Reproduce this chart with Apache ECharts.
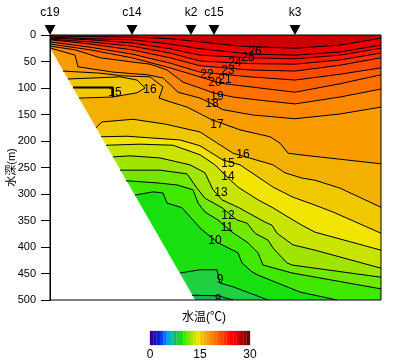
<!DOCTYPE html>
<html><head><meta charset="utf-8">
<style>html,body{margin:0;padding:0;background:#fff}#c{width:400px;height:360px}</style>
<script src="https://cdn.jsdelivr.net/npm/echarts@6/dist/echarts.min.js"></script>
</head><body><div id="c"></div>
<script>
// Temperature colour of each 1-degree band (index = lower bound in degrees C)
const bandColors = ['#300090','#2010b0','#1020d0','#0040f0','#0070ff','#00a0f0','#00c0b0','#20b060','#20d040',
 '#18e010','#40e800','#70e800','#a0e400','#c8e400','#f0e400','#f0c800','#f4b000','#f89c00','#fc8800',
 '#ff7000','#ff6000','#ff4800','#ff3000','#ff1800','#ff0000','#e80000','#cc0000','#b00000','#900000','#700000'];
const stationNames = ['c19','c14','k2','c15','k3'];
const stationDist = [0,82,141,164,245];
const seabed = [[0,25],[145,500],[0,500]];
// isotherms: [distance, depth]
const iso26=[[0,2],[40,3],[82,4],[120,7],[150,13],[190,21],[245,25],[290,19],[331,6]];
const iso25=[[0,4],[40,7],[82,9],[120,17],[150,26],[200,36],[245,38],[290,32],[331,19]];
const iso24=[[0,6],[40,9],[82,15],[120,26],[150,38],[200,43],[245,45],[290,38],[331,25]];
const iso23=[[0,8],[40,13],[82,21],[120,34],[150,49],[200,54],[245,55],[290,47],[331,34]];
const iso22=[[0,9],[40,17],[82,28],[120,43],[150,58],[200,66],[245,68],[290,57],[331,43]];
const iso21=[[0,13],[40,23],[82,36],[120,53],[150,70],[200,79],[245,85],[290,74],[331,62]];
const iso20=[[0,17],[40,28],[82,43],[120,62],[150,79],[170,91],[210,100],[245,108],[290,92],[331,75]];
const iso19=[[0,21],[25,28],[50,43],[82,51],[100,55],[117,66],[133,89],[150,100],[163,109],[183,117],[210,123],[245,130],[290,117],[331,102]];
const iso18=[[1,25],[25,38],[28,60],[63,70],[97,75],[113,81],[128,108],[150,119],[162,130],[173,141],[203,151],[245,158],[290,149],[331,136]];
const iso17=[[13,68],[50,72],[72,77],[100,79],[113,98],[109,119],[120,126],[137,136],[162,160],[190,179],[220,192],[230,204],[238,223],[250,226],[331,243]];
const iso16=[[46,175],[52,164],[83,159],[115,168],[150,183],[183,223],[223,245],[235,260],[252,270],[265,274],[290,289],[331,325]];
const iso16Pool=[[18,83],[70,79],[87,85],[95,100],[87,109],[63,117],[29,119]];
const iso15Core=[[23,99],[63,99],[63,117]];
const iso15=[[51,192],[77,191],[130,198],[150,209],[173,236],[190,245],[205,264],[223,287],[243,306],[265,321],[283,334],[331,374]];
const iso14=[[56,208],[90,206],[123,208],[150,226],[165,245],[175,264],[188,287],[208,311],[222,325],[235,340],[252,359],[265,372],[331,406]];
const iso13=[[63,230],[80,228],[110,232],[140,245],[155,260],[163,292],[172,311],[188,325],[215,353],[222,359],[227,374],[243,396],[265,406],[331,440]];
const iso12=[[70,255],[110,255],[137,262],[147,289],[155,308],[172,326],[187,349],[197,355],[205,374],[218,387],[223,402],[237,430],[242,434],[265,440],[331,457]];
const iso11=[[76,275],[107,279],[127,283],[143,292],[148,317],[155,334],[168,349],[182,372],[198,392],[208,411],[213,434],[242,449],[331,479]];
const iso10=[[85,302],[103,296],[113,298],[117,317],[132,326],[150,364],[155,372],[168,392],[188,411],[192,430],[202,447],[208,453],[250,485],[287,500]];
const iso9=[[130,449],[150,443],[167,443],[170,468],[183,475],[218,500]];
const iso8=[[142,491],[168,492],[183,500]];
const isoLevels=[26,25,24,23,22,21,20,19,18,17,16,15,14,13,12,11,10,9,8];
const isoLines=[iso26,iso25,iso24,iso23,iso22,iso21,iso20,iso19,iso18,iso17,iso16,iso15,iso14,iso13,iso12,iso11,iso10,iso9,iso8];
// contour labels: [distance, depth, text]
const contourLabels=[[65,109,'15'],[100,104,'16'],[167,170,'17'],[193,226,'16'],[178,242,'15'],[178,268,'14'],[171,298,'13'],
 [178,340,'12'],[177,364,'11'],[165,389,'10'],[170,462,'9'],[168,499,'8'],[162,130,'18'],[167,117,'19'],[165,90,'20'],[175,85,'21'],
 [157,74,'22'],[178,68,'23'],[185,53,'24'],[198,42,'25'],[205,32,'26']];
const distMax=331, depthMax=500, depthStep=50;

const FONT='"Liberation Sans","Noto Sans CJK JP",sans-serif';
const series=[];
function polygonSeries(points,fill,z){
  return {type:'custom',coordinateSystem:'cartesian2d',xAxisIndex:0,yAxisIndex:0,z:z,clip:true,silent:true,
    data:[0],encode:{x:[],y:[]},
    renderItem:(p,api)=>({type:'polygon',shape:{points:points.map(q=>api.coord(q))},style:{fill:fill,stroke:fill,lineWidth:0.5}})};
}
function lineSeries(points,width){
  return {type:'line',data:points,z:20,symbol:'none',silent:true,lineStyle:{color:'#000',width:width||1},clip:true,animation:false};
}
series.push(polygonSeries([[0,0],[distMax,0],[distMax,depthMax],[0,depthMax]],bandColors[26],2));
isoLevels.forEach((lv,i)=>{
  const pts=isoLines[i], last=pts[pts.length-1], first=pts[0];
  series.push(polygonSeries(pts.concat([[last[0],depthMax],[first[0],depthMax]]),bandColors[lv-1],3));
  if(lv===16) series.push(polygonSeries(iso16Pool,bandColors[15],3));
  series.push(lineSeries(pts));
});
series.push(lineSeries(iso16Pool));
series.push(lineSeries(iso15Core,2));
series.push(polygonSeries(seabed,'#fff',10));
series.push({type:'custom',coordinateSystem:'cartesian2d',xAxisIndex:0,yAxisIndex:0,z:40,clip:true,silent:true,
  data:contourLabels,encode:{x:0,y:1},
  renderItem:(p,api)=>{const c=api.coord([api.value(0),api.value(1)]);
    return {type:'text',x:c[0],y:c[1],style:{text:contourLabels[p.dataIndex][2],fill:'#000',font:'12px '+FONT,align:'center',verticalAlign:'middle'}};}});
series.push({type:'line',data:[[0,0],[distMax,0],[distMax,depthMax],[0,depthMax],[0,0]],z:45,symbol:'none',silent:true,clip:false,lineStyle:{color:'#000',width:1}});
series.push({type:'scatter',data:stationDist.map((d,i)=>({value:[d,0],name:stationNames[i]})),z:50,clip:false,silent:true,
  symbol:'triangle',symbolSize:[11,10],symbolRotate:180,symbolOffset:[0,-5],itemStyle:{color:'#000',opacity:1},
  label:{show:true,position:'top',distance:6,formatter:'{b}',color:'#000',fontSize:12,fontFamily:FONT}});
series.push({type:'custom',coordinateSystem:'cartesian2d',xAxisIndex:1,yAxisIndex:1,silent:true,z:5,
  data:bandColors.map((c,i)=>[i,i+1]),encode:{x:[0,1],y:[]},
  renderItem:(p,api)=>{const a=api.coord([api.value(0),0]),b=api.coord([api.value(1),1]);
    return {type:'rect',shape:{x:a[0],y:b[1],width:b[0]-a[0],height:a[1]-b[1]},style:{fill:bandColors[p.dataIndex],stroke:bandColors[p.dataIndex],lineWidth:0.3}};}});

const chart=echarts.init(document.getElementById('c'),null,{renderer:'canvas'});
chart.setOption({
  animation:false,backgroundColor:'#fff',
  textStyle:{fontFamily:FONT},
  title:{text:'水温(℃)',left:199,top:307,textAlign:'center',textStyle:{fontSize:12,fontWeight:'normal',color:'#000',fontFamily:FONT}},
  grid:[{left:50,right:19,top:35,bottom:60,show:false,outerBoundsMode:'none'},{left:150,top:331,width:100,height:14,show:false,outerBoundsMode:'none'}],
  xAxis:[{type:'value',gridIndex:0,min:0,max:distMax,show:false,splitLine:{show:false}},
    {type:'value',gridIndex:1,min:0,max:30,interval:15,splitLine:{show:false},axisLine:{show:false},axisTick:{show:false},
     axisLabel:{color:'#000',fontSize:12,margin:4,fontFamily:FONT,showMinLabel:true,showMaxLabel:true}}],
  yAxis:[{type:'value',gridIndex:0,min:0,max:depthMax,interval:depthStep,inverse:true,splitLine:{show:false},z:46,
     name:'水深(m)',nameLocation:'middle',nameGap:33,nameRotate:90,nameMoveOverlap:false,nameTextStyle:{color:'#000',fontSize:11,fontFamily:FONT},
     axisLine:{show:true,lineStyle:{color:'#000',width:1}},axisTick:{show:true,length:9,lineStyle:{color:'#000'}},
     axisLabel:{color:'#000',fontSize:11,margin:14,fontFamily:FONT}},
    {type:'value',gridIndex:1,min:0,max:1,show:false,splitLine:{show:false}}],
  series:series
});
</script></body></html>
